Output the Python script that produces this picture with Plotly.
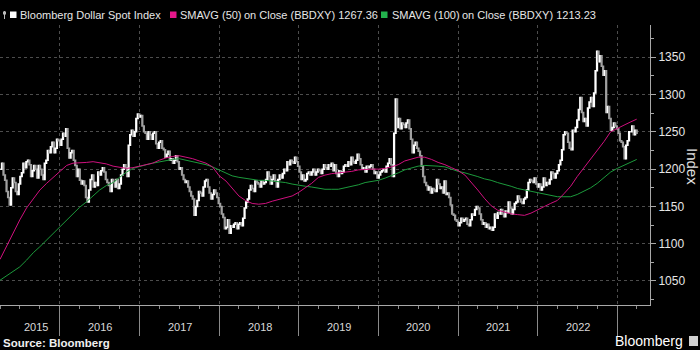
import pandas as pd
import plotly.graph_objects as go

# Weekly closes (Fridays), Bloomberg Dollar Spot Index
close_2015 = [1200, 1208, 1192, 1185, 1170, 1162, 1152, 1175, 1188, 1182, 1170, 1166, 1180,
              1190, 1195, 1208, 1202, 1210, 1212, 1206, 1190, 1198, 1205, 1200, 1188, 1205,
              1200, 1192, 1186, 1208, 1212, 1225, 1222, 1230, 1236, 1222, 1228, 1240, 1238]
close_2016 = [1232, 1240, 1248, 1244, 1254, 1228, 1215, 1222, 1225, 1212, 1205, 1190, 1200,
              1185, 1180, 1184, 1178, 1162, 1156, 1172, 1186, 1192, 1176, 1182, 1178, 1196,
              1192, 1198, 1202, 1196, 1186, 1182, 1178, 1170, 1186, 1182, 1176, 1186, 1174, 1180,
              1192, 1200, 1206, 1202, 1190, 1232, 1246, 1252, 1244, 1250, 1268, 1274, 1270]
close_2017 = [1272, 1258, 1250, 1248, 1240, 1250, 1246, 1240, 1248, 1250, 1234, 1228, 1236,
              1238, 1228, 1226, 1216, 1220, 1224, 1212, 1214, 1208, 1212, 1218, 1210, 1200,
              1202, 1192, 1186, 1182, 1184, 1176, 1170, 1164, 1160, 1138, 1150, 1158, 1170,
              1168, 1164, 1176, 1184, 1186, 1176, 1168, 1160, 1166, 1172, 1168, 1162, 1154]
close_2018 = [1150, 1140, 1135, 1120, 1122, 1132, 1114, 1124, 1122, 1126, 1128, 1120, 1126,
              1128, 1124, 1134, 1148, 1156, 1160, 1172, 1178, 1174, 1170, 1184, 1182, 1180,
              1176, 1184, 1180, 1182, 1186, 1196, 1190, 1180, 1186, 1192, 1184, 1176, 1186,
              1192, 1188, 1194, 1200, 1198, 1210, 1206, 1212, 1210, 1208, 1216, 1210, 1204]
close_2019 = [1196, 1186, 1192, 1184, 1186, 1194, 1196, 1192, 1196, 1200, 1192, 1196, 1200,
              1198, 1194, 1200, 1206, 1202, 1200, 1206, 1204, 1208, 1198, 1206, 1194, 1190,
              1198, 1194, 1196, 1204, 1206, 1204, 1210, 1206, 1216, 1210, 1208, 1212, 1220,
              1214, 1206, 1200, 1202, 1196, 1204, 1202, 1204, 1206, 1200, 1194, 1196, 1188]
close_2020 = [1192, 1196, 1198, 1200, 1196, 1204, 1208, 1214, 1206, 1190, 1248, 1294, 1256,
              1268, 1254, 1262, 1260, 1256, 1262, 1266, 1254, 1240, 1222, 1232, 1236, 1228,
              1224, 1218, 1204, 1190, 1182, 1178, 1172, 1176, 1168, 1174, 1172, 1170, 1186,
              1180, 1174, 1176, 1168, 1184, 1166, 1168, 1162, 1152, 1140, 1138, 1132, 1130]
close_2021 = [1124, 1128, 1134, 1130, 1132, 1134, 1126, 1124, 1132, 1140, 1138, 1146, 1150,
              1148, 1140, 1132, 1126, 1128, 1122, 1126, 1120, 1122, 1118, 1122, 1140, 1134,
              1142, 1140, 1146, 1140, 1136, 1144, 1142, 1156, 1148, 1140, 1146, 1154, 1156,
              1164, 1160, 1156, 1154, 1160, 1162, 1172, 1182, 1186, 1184, 1182, 1188, 1180, 1176]
close_2022 = [1180, 1172, 1176, 1188, 1178, 1182, 1180, 1186, 1196, 1194, 1188, 1194,
              1198, 1206, 1212, 1226, 1246, 1250, 1248, 1236, 1228, 1226, 1252, 1250, 1256,
              1266, 1280, 1296, 1276, 1264, 1268, 1258, 1282, 1290, 1296, 1284, 1302, 1332, 1358,
              1344, 1352, 1338, 1326, 1332, 1276, 1284, 1268, 1252, 1256, 1262, 1258, 1254]
close_2023 = [1248, 1238, 1236, 1230, 1214, 1232, 1238, 1250, 1250, 1258, 1246, 1252, 1248]

first_fridays = ["2015-04-03", "2016-01-01", "2017-01-06", "2018-01-05", "2019-01-04",
                 "2020-01-03", "2021-01-01", "2022-01-07", "2023-01-06"]
yearly_closes = [close_2015, close_2016, close_2017, close_2018, close_2019,
                 close_2020, close_2021, close_2022, close_2023]

# Moving averages, monthly (Apr 2015 .. Mar 2023) + last point
sma50 = [1079, 1097, 1115, 1132, 1148, 1161, 1172, 1181, 1189,
         1197, 1205, 1208, 1208, 1209, 1210, 1209, 1207, 1204, 1203, 1201, 1202,
         1204, 1206, 1208, 1212, 1215, 1217, 1218, 1216, 1214, 1211, 1208, 1203,
         1191, 1184, 1175, 1164, 1158, 1154, 1153, 1154, 1157, 1159, 1161, 1164,
         1169, 1175, 1181, 1189, 1192, 1194, 1195, 1196, 1197, 1199, 1200, 1200,
         1200, 1201, 1203, 1206, 1211, 1214, 1216, 1216, 1213, 1209, 1206, 1202,
         1198, 1192, 1183, 1172, 1161, 1151, 1145, 1142, 1140, 1139, 1138, 1141,
         1145, 1150, 1154, 1158, 1167, 1177, 1190, 1202, 1213, 1225, 1237, 1250,
         1255, 1259, 1263, 1267]
sma100 = [1051, 1057, 1063, 1069, 1078, 1088, 1096, 1105, 1114,
          1123, 1132, 1141, 1149, 1156, 1164, 1172, 1178, 1182, 1189, 1196, 1201,
          1204, 1206, 1208, 1210, 1212, 1213, 1214, 1212, 1210, 1208, 1206, 1203,
          1199, 1195, 1191, 1189, 1188, 1186, 1185, 1185, 1184, 1184, 1182, 1180,
          1179, 1177, 1176, 1174, 1173, 1173, 1173, 1175, 1177, 1179, 1182, 1183,
          1185, 1188, 1191, 1195, 1199, 1202, 1204, 1205, 1205, 1204, 1203, 1200,
          1197, 1195, 1193, 1190, 1187, 1185, 1182, 1180, 1177, 1174, 1172, 1170,
          1168, 1167, 1165, 1163, 1163, 1163, 1166, 1170, 1175, 1181, 1189, 1196,
          1201, 1205, 1209, 1213]

year_labels = ["2015", "2016", "2017", "2018", "2019", "2020", "2021", "2022"]
year_label_px = [36, 100, 180, 260, 339, 418, 498, 578]
y_ticks = [1050, 1100, 1150, 1200, 1250, 1300, 1350]

# ---- build traces ----
dates, closes = [], []
for start, vals in zip(first_fridays, yearly_closes):
    dates += list(pd.date_range(start, periods=len(vals), freq="7D"))
    closes += vals
opens = [closes[0]] + closes[:-1]
highs = [max(o, c) for o, c in zip(opens, closes)]
lows = [min(o, c) for o, c in zip(opens, closes)]

sma_dates = list(pd.date_range("2015-04-01", periods=96, freq="MS")) + [pd.Timestamp("2023-03-31")]

fig = go.Figure()
fig.add_trace(go.Candlestick(
    x=dates, open=opens, high=highs, low=lows, close=closes,
    increasing=dict(line=dict(color="#ffffff", width=1.5), fillcolor="#ffffff"),
    decreasing=dict(line=dict(color="#a0a0a0", width=1.5), fillcolor="#a0a0a0"),
    whiskerwidth=0, hoverinfo="skip", showlegend=False))
fig.add_trace(go.Scatter(x=sma_dates, y=sma100, mode="lines",
                         line=dict(color="#1c9a3c", width=1), hoverinfo="skip", showlegend=False))
fig.add_trace(go.Scatter(x=sma_dates, y=sma50, mode="lines",
                         line=dict(color="#d0107f", width=1), hoverinfo="skip", showlegend=False))

PLOT_W, PLOT_TOP, PLOT_BOT = 650, 25, 305


def fx(px):
    return px / PLOT_W


def fy(py):
    return (PLOT_BOT - py) / (PLOT_BOT - PLOT_TOP)


def ann(text, px, py, size=11, color="#e6e6e6", xanchor="left", angle=0):
    return dict(text=text, xref="paper", yref="paper", x=fx(px), y=fy(py),
                xanchor=xanchor, yanchor="middle", showarrow=False,
                font=dict(size=size, color=color), textangle=angle)


annotations = [
    ann("Bloomberg Dollar Spot Index", 18, 15),
    ann("SMAVG (50)", 178, 15),
    ann("on Close (BBDXY) 1267.36", 242, 15),
    ann("SMAVG (100)", 390, 15),
    ann("on Close (BBDXY) 1213.23", 460, 15),
    ann("Index", 693, 166, size=15, color="#e0e0e0", xanchor="center", angle=90),
    ann("<b>Source: Bloomberg</b>", 1, 343, size=11.5, color="#f0f0f0"),
    ann("Bloomberg", 685, 341, size=14, color="#ffffff", xanchor="right"),
]
for lab, px in zip(year_labels, year_label_px):
    annotations.append(ann(lab, px, 327, size=11, color="#d8d8d8", xanchor="center"))


def rect(x0, y0, x1, y1, color, line=None):
    return dict(type="rect", xref="paper", yref="paper", x0=fx(x0), x1=fx(x1),
                y0=fy(y1), y1=fy(y0), fillcolor=color,
                line=dict(width=0) if line is None else line)


shapes = [
    dict(type="line", xref="paper", yref="paper", x0=fx(4.5), x1=fx(4.5), y0=fy(19), y1=fy(11),
         line=dict(color="#bbbbbb", width=1)),
    rect(3, 11.5, 6, 14.5, "#bbbbbb"),
    rect(10, 11.5, 16.5, 18, "#ffffff"),
    rect(170, 11.5, 176.5, 18, "#e5168a"),
    rect(381, 11.5, 387.5, 18, "#22b14c"),
    rect(689, 336, 698, 346, "#d0d0d0"),
]

year_ticks = [f"{y}-01-01" for y in range(2016, 2024)]
quarter_ticks = list(pd.date_range("2015-04-01", "2023-04-01", freq="QS"))

fig.update_layout(
    width=700, height=350,
    margin=dict(l=0, r=50, t=PLOT_TOP, b=350 - PLOT_BOT),
    paper_bgcolor="#000000", plot_bgcolor="#000000",
    font=dict(family="Liberation Sans, Arial, sans-serif", color="#e6e6e6"),
    showlegend=False,
    xaxis=dict(type="date", range=["2015-04-01", "2023-05-31"],
               rangeslider=dict(visible=False),
               tickmode="array", tickvals=year_ticks, showticklabels=False,
               ticks="outside", ticklen=30, tickcolor="#8a8a8a", tickwidth=1,
               showgrid=True, gridcolor="#4d4d4d", griddash="dot", gridwidth=1,
               showline=True, linecolor="#a8a8a8", linewidth=1, zeroline=False,
               minor=dict(tickmode="array", tickvals=quarter_ticks, ticks="outside",
                          ticklen=3, tickcolor="#8a8a8a", showgrid=False)),
    yaxis=dict(side="right", range=[1017.8, 1393.3],
               tickmode="array", tickvals=y_ticks,
               ticks="outside", ticklen=5, tickcolor="#a8a8a8",
               tickfont=dict(size=12, color="#e6e6e6"),
               showgrid=True, gridcolor="#4d4d4d", griddash="dot", gridwidth=1,
               showline=True, linecolor="#a8a8a8", linewidth=1, zeroline=False,
               minor=dict(tickmode="array", tickvals=[1025, 1075, 1125, 1175, 1225, 1275, 1325, 1375],
                          ticks="outside", ticklen=3, tickcolor="#a8a8a8", showgrid=False)),
    annotations=annotations,
    shapes=shapes,
)

fig.write_html("out.html")
